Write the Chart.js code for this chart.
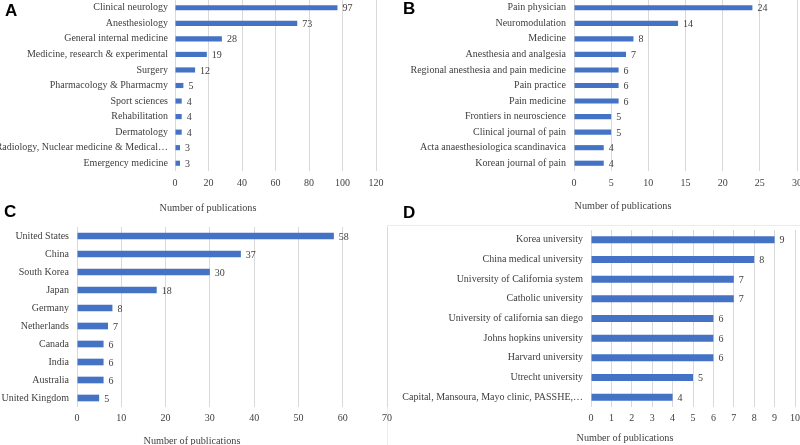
<!DOCTYPE html>
<html>
<head>
<meta charset="utf-8">
<script src="https://cdn.jsdelivr.net/npm/chart.js@4/dist/chart.umd.min.js"></script>
<style>
  body { margin: 0; background: #fff; }
  #wrap { position: relative; width: 800px; height: 445px; overflow: hidden; background: #fff; }
  .panel { position: absolute; }
  .letter { position: absolute; font: bold 17px "Liberation Sans", Arial, sans-serif; color: #000; line-height: 1; }
  .xtitle { position: absolute; font: 10.2px "Liberation Serif", "Times New Roman", serif; color: #404040; white-space: nowrap; transform: translate(-50%, -50%); }
  #frameD { position: absolute; left: 387px; top: 225px; width: 420px; height: 230px; border-left: 1px solid #ececec; border-top: 1px solid #ececec; }
</style>
</head>
<body>
<div id="wrap">
  <div id="frameD"></div>
  <div class="panel" style="left:0;top:0;width:400px;height:225px"><canvas id="chart-a"></canvas></div>
  <div class="panel" style="left:400px;top:0;width:400px;height:225px"><canvas id="chart-b"></canvas></div>
  <div class="panel" style="left:0;top:225px;width:400px;height:220px"><canvas id="chart-c"></canvas></div>
  <div class="panel" style="left:400px;top:225px;width:400px;height:220px"><canvas id="chart-d"></canvas></div>
  <div class="letter" style="left:5px;top:2px">A</div>
  <div class="letter" style="left:403px;top:0px">B</div>
  <div class="letter" style="left:4px;top:203px">C</div>
  <div class="letter" style="left:403px;top:204px">D</div>
  <div class="xtitle" style="left:208px;top:207px">Number of publications</div>
  <div class="xtitle" style="left:623px;top:205px">Number of publications</div>
  <div class="xtitle" style="left:192px;top:440px">Number of publications</div>
  <div class="xtitle" style="left:625px;top:437px">Number of publications</div>
</div>
<script>
const categoryLabels = [
  'Clinical neurology', 'Anesthesiology', 'General internal medicine',
  'Medicine, research & experimental', 'Surgery', 'Pharmacology & Pharmacmy',
  'Sport sciences', 'Rehabilitation', 'Dermatology',
  'Radiology, Nuclear medicine & Medical…', 'Emergency medicine'
];
const categoryCounts = [97, 73, 28, 19, 12, 5, 4, 4, 4, 3, 3];

const journalLabels = [
  'Pain physician', 'Neuromodulation', 'Medicine', 'Anesthesia and analgesia',
  'Regional anesthesia and pain medicine', 'Pain practice', 'Pain medicine',
  'Frontiers in neuroscience', 'Clinical journal of pain',
  'Acta anaesthesiologica scandinavica', 'Korean journal of pain'
];
const journalCounts = [24, 14, 8, 7, 6, 6, 6, 5, 5, 4, 4];

const countryLabels = [
  'United States', 'China', 'South Korea', 'Japan', 'Germany',
  'Netherlands', 'Canada', 'India', 'Australia', 'United Kingdom'
];
const countryCounts = [58, 37, 30, 18, 8, 7, 6, 6, 6, 5];

const institutionLabels = [
  'Korea university', 'China medical university', 'University of California system',
  'Catholic university', 'University of california san diego', 'Johns hopkins university',
  'Harvard university', 'Utrecht university', 'Capital, Mansoura, Mayo clinic, PASSHE,…'
];
const institutionCounts = [9, 8, 7, 7, 6, 6, 6, 5, 4];

const FONT = { family: '"Liberation Serif", "Times New Roman", serif', size: 10 };
const TEXT = '#404040';
const BAR = '#4472c4';

const valueLabels = {
  id: 'valueLabels',
  afterDatasetsDraw (chart) {
    const ctx = chart.ctx;
    const meta = chart.getDatasetMeta(0);
    ctx.save();
    ctx.font = `${FONT.size}px ${FONT.family}`;
    ctx.fillStyle = TEXT;
    ctx.textAlign = 'left';
    ctx.textBaseline = 'middle';
    meta.data.forEach((bar, i) => {
      ctx.fillText(String(chart.data.datasets[0].data[i]), bar.x + 5, bar.y + 1);
    });
    ctx.restore();
  }
};

function makeChart (id, labels, data, { max, step, yWidth, xHeight, pad, barPct, tickPad, labelPad }) {
  // eslint-disable-next-line no-undef
  return new Chart(id, {
    type: 'bar',
    data: {
      labels,
      datasets: [{ data, backgroundColor: BAR, borderWidth: 0, barPercentage: barPct, categoryPercentage: 1 }]
    },
    options: {
      indexAxis: 'y',
      responsive: true,
      maintainAspectRatio: false,
      animation: false,
      layout: { padding: pad },
      plugins: { legend: { display: false }, tooltip: { enabled: false } },
      scales: {
        x: {
          min: 0,
          max,
          ticks: { stepSize: step, color: TEXT, font: FONT, padding: tickPad, maxRotation: 0 },
          grid: { color: '#d9d9d9', drawTicks: false },
          border: { display: false },
          afterFit: s => { s.height = xHeight; s.paddingLeft = 0; s.paddingRight = 0; }
        },
        y: {
          ticks: { color: TEXT, font: FONT, padding: labelPad, autoSkip: false },
          grid: { display: false, drawTicks: false },
          border: { display: false },
          afterFit: s => { s.width = yWidth; s.paddingTop = 0; s.paddingBottom = 0; }
        }
      }
    },
    plugins: [valueLabels]
  });
}

makeChart('chart-a', categoryLabels, categoryCounts,
  { max: 120, step: 20, yWidth: 175, xHeight: 54, pad: { top: 0, right: 24, bottom: 0, left: 0 }, barPct: 0.33, tickPad: 6, labelPad: 7 });
makeChart('chart-b', journalLabels, journalCounts,
  { max: 30, step: 5, yWidth: 174, xHeight: 54, pad: { top: 0, right: 3, bottom: 0, left: 0 }, barPct: 0.33, tickPad: 6, labelPad: 8 });
makeChart('chart-c', countryLabels, countryCounts,
  { max: 70, step: 10, yWidth: 77, xHeight: 38, pad: { top: 2, right: 13, bottom: 0, left: 0 }, barPct: 0.37, tickPad: 5, labelPad: 8 });
makeChart('chart-d', institutionLabels, institutionCounts,
  { max: 10, step: 1, yWidth: 191, xHeight: 38, pad: { top: 5, right: 5, bottom: 0, left: 0 }, barPct: 0.36, tickPad: 5, labelPad: 8 });
</script>
</body>
</html>
